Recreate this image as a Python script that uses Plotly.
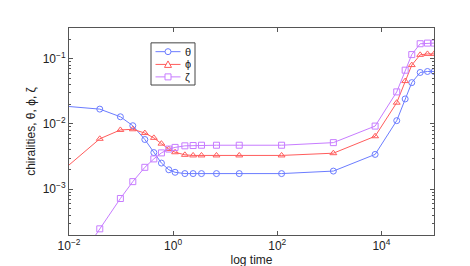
import plotly.graph_objects as go

time = [0.005, 0.039, 0.097, 0.168, 0.286, 0.426, 0.596, 0.826, 1.09, 1.68, 2.42, 3.5,
        6.8, 18.6, 121, 1194, 7570, 19700, 28600, 38300, 55500, 76700, 103000]

theta = [0.0194, 0.0169, 0.0129, 0.00942, 0.00579, 0.00365, 0.00252, 0.00199, 0.00182,
         0.00174, 0.00174, 0.00174, 0.00174, 0.00174, 0.00174, 0.00190, 0.00342,
         0.01125, 0.0242, 0.0430, 0.0615, 0.0637, 0.0637]

phi = [0.00147, 0.00593, 0.00811, 0.00830, 0.00726, 0.00613, 0.00500, 0.00413, 0.00369,
       0.00337, 0.00330, 0.00330, 0.00330, 0.00330, 0.00330, 0.00357, 0.00649,
       0.0212, 0.0454, 0.0798, 0.1145, 0.1184, 0.1184]

zeta = [0.000022, 0.000248, 0.000723, 0.00131, 0.00217, 0.00292, 0.00361, 0.00413, 0.00438,
        0.00463, 0.00468, 0.00473, 0.00473, 0.00473, 0.00473, 0.00518, 0.00929,
        0.0310, 0.0667, 0.1156, 0.1694, 0.1733, 0.1733]

x_tickvals = [0.01, 1, 100, 10000]
x_ticktext = ["10<sup>\u22122</sup>", "10<sup>0</sup>", "10<sup>2</sup>", "10<sup>4</sup>"]
y_tickvals = [0.001, 0.01, 0.1]
y_ticktext = ["10<sup>\u22123</sup>", "10<sup>\u22122</sup>", "10<sup>\u22121</sup>"]

names = ["\u03b8", "\u03d5", "\u03b6"]
colors = ["#6b7cff", "#ff5c5c", "#c77cff"]
symbols = ["circle-open", "triangle-up-open", "square-open"]
values = [theta, phi, zeta]

W, H = 470, 266
ML, MR, MT, MB = 61, 44, 20, 30
PW, PH = W - ML - MR, H - MT - MB


def px_x(p):
    return (p - ML) / PW


def px_y(p):
    return (H - MB - p) / PH


fig = go.Figure()
for name, vals, color, sym in zip(names, values, colors, symbols):
    fig.add_trace(go.Scatter(
        x=time, y=vals, name=name, mode="lines+markers", showlegend=False,
        line=dict(color=color, width=1),
        marker=dict(symbol=sym, size=6, color=color, line=dict(width=1, color=color)),
    ))

fam = "Liberation Sans, Arial, sans-serif"
tick_font = dict(family=fam, size=12, color="#222")
title_font = dict(family=fam, size=12, color="#222")

# Hand-built compact legend (matches the reference's tight legend box)
shapes = [dict(type="rect", xref="paper", yref="paper",
               x0=px_x(143), x1=px_x(187), y0=px_y(79.5), y1=px_y(35.5),
               line=dict(color="#444", width=1), fillcolor="white", layer="above")]
annotations = []
row_y = [44.7, 58, 71]
for i, (name, color) in enumerate(zip(names, colors)):
    yy = px_y(row_y[i])
    shapes.append(dict(type="line", xref="paper", yref="paper",
                       x0=px_x(147.5), x1=px_x(172.5), y0=yy, y1=yy,
                       line=dict(color=color, width=1), layer="above"))
    xc = px_x(160)
    if i == 0:
        shapes.append(dict(type="circle", xref="paper", yref="paper",
                           xsizemode="pixel", ysizemode="pixel", xanchor=xc, yanchor=yy,
                           x0=-3, x1=3, y0=-3, y1=3,
                           line=dict(color=color, width=1), fillcolor="white", layer="above"))
    elif i == 1:
        shapes.append(dict(type="path", xref="paper", yref="paper",
                           xsizemode="pixel", ysizemode="pixel", xanchor=xc, yanchor=yy,
                           path="M -3.5 -3 L 3.5 -3 L 0 3.5 Z",
                           line=dict(color=color, width=1), fillcolor="white", layer="above"))
    else:
        shapes.append(dict(type="rect", xref="paper", yref="paper",
                           xsizemode="pixel", ysizemode="pixel", xanchor=xc, yanchor=yy,
                           x0=-3, x1=3, y0=-3, y1=3,
                           line=dict(color=color, width=1), fillcolor="white", layer="above"))
    annotations.append(dict(text=name, xref="paper", yref="paper", x=px_x(175.5), y=yy,
                            xanchor="left", yanchor="middle", showarrow=False,
                            height=12, borderpad=0,
                            font=dict(family=fam, size=11, color="#222")))

fig.update_layout(
    width=W, height=H,
    margin=dict(l=ML, r=MR, t=MT, b=MB),
    paper_bgcolor="white", plot_bgcolor="white",
    font=tick_font,
    showlegend=False,
    shapes=shapes, annotations=annotations,
)
fig.update_xaxes(
    type="log", range=[-2, 5.01],
    tickmode="array", tickvals=x_tickvals, ticktext=x_ticktext,
    showgrid=False, zeroline=False, showline=True, linecolor="#555", linewidth=1,
    mirror="ticks", ticks="inside", ticklen=4, tickcolor="#555",
    title=dict(text="log time", standoff=0, font=title_font),
    tickfont=tick_font,
)
fig.update_yaxes(
    type="log", range=[-3.70, -0.53],
    tickmode="array", tickvals=y_tickvals, ticktext=y_ticktext,
    showgrid=False, zeroline=False, showline=True, linecolor="#555", linewidth=1,
    mirror="ticks", ticks="inside", ticklen=4, tickcolor="#555",
    minor=dict(ticks="inside", ticklen=2, tickcolor="#555", showgrid=False, dtick="D1"),
    title=dict(text="chiralities, \u03b8, \u03d5, \u03b6", standoff=4, font=title_font),
    tickfont=tick_font,
)

fig.write_html("out.html")
